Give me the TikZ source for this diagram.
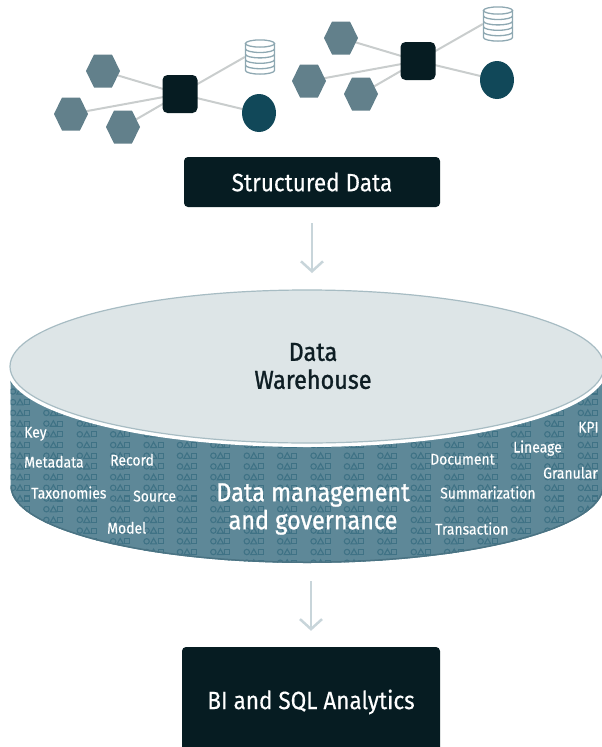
\documentclass[tikz,border=0pt]{standalone}
\usepackage{fontspec}
\setmainfont{Fira Sans}[FakeStretch=0.9,FakeBold=0.4]
\newfontfamily\medfont{Fira Sans}[FakeStretch=0.9,FakeBold=1.1]
\usetikzlibrary{shapes.geometric,arrows.meta}
\pgfdeclarelayer{bg}
\pgfsetlayers{bg,main}
\definecolor{darkbox}{HTML}{061C22}
\definecolor{hexc}{HTML}{62808B}
\definecolor{circc}{HTML}{114859}
\definecolor{linec}{HTML}{C9CDCD}
\definecolor{dbc}{HTML}{8EA8B2}
\definecolor{topfill}{HTML}{DDE5E7}
\definecolor{topline}{HTML}{A7BCC3}
\definecolor{sidefill}{HTML}{5E8898}
\definecolor{patc}{HTML}{3F7285}
\definecolor{sidedark}{HTML}{4A7383}
\definecolor{textdark}{HTML}{0E1E24}
\definecolor{arrc}{HTML}{C8D5DA}
\tikzset{
  hexnode/.style={circle,minimum size=38pt,inner sep=0pt,
    path picture={\fill[hexc] ([shift={(-17pt,0pt)}]path picture bounding box.center)
      -- ++(8pt,16.5pt) -- ++(18pt,0pt) -- ++(8pt,-16.5pt) -- ++(-8pt,-16.5pt) -- ++(-18pt,0pt) -- cycle;}},
  hubnode/.style={rectangle,rounded corners=5pt,fill=darkbox,minimum width=35pt,minimum height=38pt,inner sep=0pt},
  ballnode/.style={ellipse,fill=circc,minimum width=34pt,minimum height=38pt,inner sep=0pt},
  dbnode/.style={rectangle,minimum width=30pt,minimum height=35pt,inner sep=0pt},
  dbline/.style={draw=dbc,line width=1.3pt,fill=white},
  link/.style={draw=linec,line width=2pt},
  boxnode/.style={rectangle,rounded corners=4pt,fill=darkbox,text=white,inner sep=0pt},
  flow/.style={draw=arrc,line width=2.5pt,-{Straight Barb[length=10pt,width=22pt,line width=2.5pt]}},
  lbl/.style={text=white,inner sep=0pt,anchor=base west,font=\fontsize{15.5}{18}\selectfont},
  pat/.style={draw=patc,line width=1.1pt},
}
\newcommand\dbicon[1]{%
  \begin{scope}[shift={(#1.center)}]
    \path[dbline] (-14.5,-13.5) -- (-14.5,13.5) arc[start angle=180,end angle=360,x radius=14.5pt,y radius=3.6pt] -- (14.5,-13.5) -- cycle;
    \foreach \yy in {-8.1,-2.7,2.7,8.1}
      \draw[draw=dbc,line width=1.3pt] (-14.5,\yy) arc[start angle=180,end angle=360,x radius=14.5pt,y radius=3.6pt];
    \draw[dbline] (0,-13.5) ellipse[x radius=14.5pt,y radius=3.6pt];
  \end{scope}}
\begin{document}
\begin{tikzpicture}[x=1pt,y=-1pt]
\useasboundingbox (0,0) rectangle (602,747);
\clip (0,0) rectangle (602,747);
% ---------- networks ----------
\foreach \g/\dx/\dy in {1/0/0,2/238/-33}{
  \begin{scope}[shift={(\dx,\dy)}]
    \node[hexnode] (ha\g) at (103,71) {};
    \node[hexnode] (hb\g) at (71,114) {};
    \node[hexnode] (hc\g) at (123,127) {};
    \node[hubnode] (sq\g) at (180,94) {};
    \node[dbnode] (db\g) at (260,57) {};
    \node[ballnode] (ball\g) at (259,113) {};
  \end{scope}
  \dbicon{db\g}
  \begin{pgfonlayer}{bg}
    \draw[link] (ha\g.center) -- (sq\g.center);
    \draw[link] (hb\g.center) -- (sq\g.center);
    \draw[link] (hc\g.center) -- (sq\g.center);
    \draw[link] (sq\g.center) -- (db\g.west);
    \draw[link] (sq\g.center) -- (ball\g.center);
  \end{pgfonlayer}
}
% ---------- structured data ----------
\node[boxnode,minimum width=256pt,minimum height=50pt,font=\fontsize{25}{30}\selectfont] (sd) at (312,182) {Structured Data};
% ---------- cylinder ----------
\coordinate (cyltop) at (312,290);
\coordinate (cylbot) at (311,563);
\fill[sidefill] (10.5,366.5) -- (10.5,486.5) arc[start angle=180,end angle=360,x radius=296.5pt,y radius=76.5pt] -- (603.5,366.5) -- cycle;
\begin{scope}
  \clip (10.5,366.5) -- (10.5,486.5) arc[start angle=180,end angle=360,x radius=296.5pt,y radius=76.5pt] -- (603.5,366.5) -- cycle;
  \foreach \r in {-4,...,14}{
    \foreach \c in {0,...,18}{
      \pgfmathsetmacro\px{13+33.4*\c}
      \pgfmathsetmacro\py{412.9+10.7*\r}
      \draw[pat] (\px,\py) circle[radius=2.7pt];
      \draw[pat] (\px+7-3.1,\py+2.6) -- (\px+7,\py-2.9) -- (\px+7+3.1,\py+2.6) -- cycle;
      \draw[pat] (\px+14-2.5,\py-2.5) rectangle (\px+14+2.5,\py+2.5);
    }
  }
  \draw[sidedark,line width=3pt] (10.5,486.5) arc[start angle=180,end angle=360,x radius=296.5pt,y radius=76.5pt];
\end{scope}
\draw[white,line width=8pt] (307,366.5) ellipse[x radius=297pt,y radius=76.5pt];
\draw[fill=topfill,draw=topline,line width=1.2pt] (307,366.5) ellipse[x radius=297pt,y radius=76.5pt];
\node[align=center,text=textdark,font=\medfont\fontsize{26}{28}\selectfont] (dw) at (313,366) {Data\\Warehouse};
\node[align=center,text=white,font=\medfont\fontsize{26}{28}\selectfont] (dmg) at (313,509) {Data management\\and governance};
% labels
\node[lbl] (k1) at (24,437.5) {Key};
\node[lbl] (k2) at (24,467.5) {Metadata};
\node[lbl] (k3) at (110,465.5) {Record};
\node[lbl] (k4) at (31,498.5) {Taxonomies};
\node[lbl] (k5) at (133,501.5) {Source};
\node[lbl] (k6) at (107,533.5) {Model};
\node[lbl] (k7) at (430,464.5) {Document};
\node[lbl] (k8) at (578,432.5) {KPI};
\node[lbl] (k9) at (513,452.5) {Lineage};
\node[lbl] (k10) at (543,478.5) {Granular};
\node[lbl] (k11) at (440,498.5) {Summarization};
\node[lbl] (k12) at (435,534.5) {Transaction};
% ---------- BI box ----------
\node[boxnode,minimum width=258pt,minimum height=110pt,font=\fontsize{25}{30}\selectfont] (bi) at (311,702) {BI and SQL Analytics};
% ---------- arrows ----------
\draw[flow,shorten <=16pt,shorten >=17pt] (sd.south) -- (cyltop);
\draw[flow,shorten <=18pt,shorten >=16pt] (cylbot) -- (bi.north);
\end{tikzpicture}
\end{document}
